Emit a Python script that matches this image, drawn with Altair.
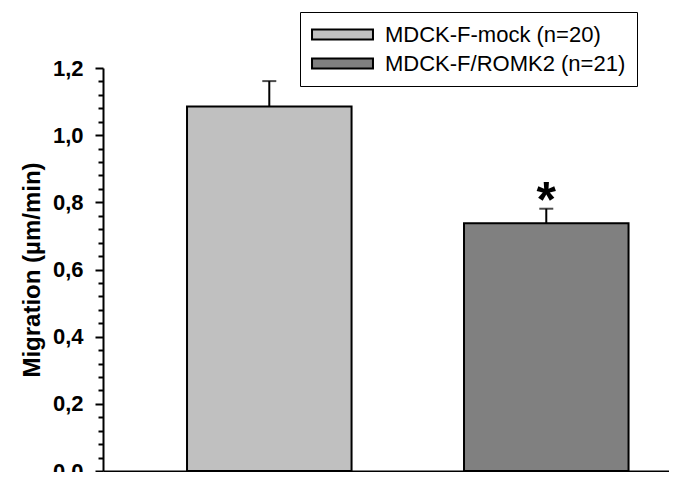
import altair as alt
import pandas as pd

groups = ["MDCK-F-mock (n=20)", "MDCK-F/ROMK2 (n=21)"]
means = [1.085, 0.738]
sems = [0.076, 0.043]
sig = ["", "*"]
colors = ["#c0c0c0", "#808080"]
y_ticks = [round(i * 0.04, 2) for i in range(31)]

df = pd.DataFrame({
    "group": groups,
    "mean": means,
    "upper": [m + s for m, s in zip(means, sems)],
    "sig": sig,
})

FONT = "Liberation Sans"

x_enc = alt.X(
    "group:N",
    sort=groups,
    scale=alt.Scale(paddingInner=0.406, paddingOuter=0.2247, align=0.675),
    axis=alt.Axis(title=None, labels=False, ticks=False, domain=True,
                  domainColor="black", domainWidth=2),
)

major_test = "abs(datum.value*5 - round(datum.value*5)) < 0.001"

y_enc = alt.Y(
    "mean:Q",
    scale=alt.Scale(domain=[0, 1.2], nice=False, zero=True),
    axis=alt.Axis(
        title="Migration (µm/min)",
        titleFont=FONT, titleFontSize=24, titleFontWeight="bold",
        titleColor="black", titlePadding=8,
        values=y_ticks, tickCount=100,
        labelExpr=f"{major_test} ? replace(format(datum.value, '.1f'), '.', ',') : ''",
        labelFont=FONT, labelFontSize=22, labelFontWeight="bold",
        labelColor="black", labelPadding=12, labelOverlap=False, labelFlush=False,
        tickSize={"condition": {"test": major_test, "value": 8}, "value": 5},
        tickColor="black", tickWidth=2,
        domainColor="black", domainWidth=2, grid=False,
    ),
)

nbsp = "\u00a0" * 10

bars = alt.Chart(df).mark_bar(stroke="black", strokeWidth=2).encode(
    x=x_enc,
    y=y_enc,
    color=alt.Color(
        "group:N",
        sort=groups,
        scale=alt.Scale(domain=groups, range=colors),
        legend=alt.Legend(
            title=None, orient="none", legendX=197, legendY=-56,
            symbolType="M-3,-0.5H3V0.5H-3Z", symbolSize=413,
            symbolOffset=20, symbolStrokeColor="black", symbolStrokeWidth=2,
            symbolOpacity=1,
            labelFont=FONT, labelFontSize=22, labelColor="black",
            labelLimit=0, labelOffset=31,
            labelExpr=f"datum.label + '{nbsp}'",
            padding=11, rowPadding=6,
            strokeColor="black", fillColor="white",
        ),
    ),
)

rules = alt.Chart(df).mark_rule(color="black", strokeWidth=2).encode(
    x=alt.X("group:N", sort=groups), y="mean:Q", y2="upper:Q"
)

caps = alt.Chart(df).mark_tick(color="black", thickness=2, size=14).encode(
    x=alt.X("group:N", sort=groups), y="upper:Q"
)

stars = alt.Chart(df).mark_text(
    font=FONT, fontSize=50, fontWeight="bold", color="black",
    baseline="alphabetic", dy=8,
).encode(
    x=alt.X("group:N", sort=groups), y="upper:Q", text="sig:N"
)

chart = alt.layer(bars, rules, caps, stars).properties(
    width=566, height=403,
    autosize=alt.AutoSizeParams(type="none"),
    padding={"left": 95, "top": 60, "right": 0, "bottom": 1},
).configure_view(stroke=None)

chart.save("out.html", embed_options={"renderer": "svg", "actions": False})
